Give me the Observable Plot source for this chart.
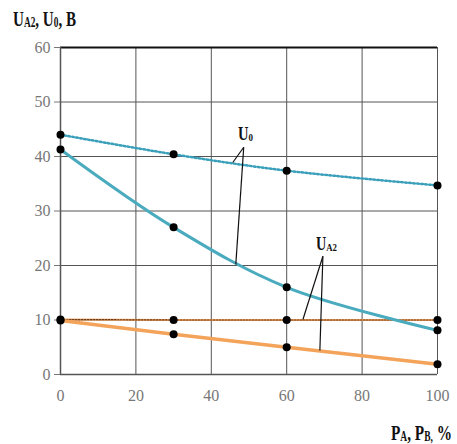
<!DOCTYPE html>
<html>
<head>
<meta charset="utf-8">
<script src="https://cdn.jsdelivr.net/npm/d3@7"></script>
<script src="https://cdn.jsdelivr.net/npm/@observablehq/plot@0.6"></script>
<style>
  html, body { margin: 0; padding: 0; background: #fff; }
  #wrap { position: relative; width: 457px; height: 444px; overflow: hidden; }
  #wrap svg text { font-family: "Liberation Serif", "Times New Roman", serif; }
  .ttl { position: absolute; font-family: "Liberation Serif", "Times New Roman", serif; font-weight: bold; color: #111; white-space: nowrap; line-height: 1; transform-origin: 0 0; }
  .ttl sub { font-size: 0.62em; line-height: 1; vertical-align: -1px; }
</style>
</head>
<body>
<div id="wrap"></div>
<script>
// Load share P_A, P_B in percent
const load = [0, 30, 60, 100];
// U0 (teal): dotted series and solid series, volts
const u0Dotted = [44.0, 40.4, 37.4, 34.7];
const u0Solid = [41.3, 27.0, 16.0, 8.1];
// UA2 (orange): dotted series and solid series, volts
const ua2Dotted = [10.1, 10.0, 10.0, 10.0];
const ua2Solid = [9.9, 7.4, 5.0, 1.9];

const xTicks = [0, 20, 40, 60, 80, 100];
const yTicks = [0, 10, 20, 30, 40, 50, 60];

const toRows = (ys) => load.map((x, i) => ({x, y: ys[i]}));
const rowsU0d = toRows(u0Dotted);
const rowsU0s = toRows(u0Solid);
const rowsUAd = toRows(ua2Dotted);
const rowsUAs = toRows(ua2Solid);

const teal = "#4aabbf";
const tealDot = "#3a9fba";
const orange = "#f3a35a";
const serif = "Liberation Serif";

// Leader lines from each label to its two curves
const leaders = [
  {x1: 48.6, y1: 41.7, x2: 45.7, y2: 38.9},
  {x1: 48.6, y1: 41.7, x2: 46.5, y2: 20.2},
  {x1: 69.6, y1: 21.7, x2: 64.3, y2: 10.1},
  {x1: 69.6, y1: 21.7, x2: 68.8, y2: 4.4}
];

const chart = Plot.plot({
  width: 457,
  height: 444,
  marginLeft: 60,
  marginRight: 20,
  marginTop: 47,
  marginBottom: 70,
  style: {fontFamily: serif, fontSize: "16px", background: "#fff"},
  x: {domain: [0, 100], ticks: xTicks, label: null},
  y: {domain: [0, 60], ticks: yTicks, label: null},
  marks: [
    Plot.gridX(xTicks, {stroke: "#555", strokeOpacity: 1, strokeWidth: 1}),
    Plot.gridY(yTicks, {stroke: "#555", strokeOpacity: 1, strokeWidth: 1}),
    Plot.ruleY([60], {stroke: "#111", strokeWidth: 2}),
    Plot.ruleX([0], {stroke: "#555", strokeWidth: 1.5}),
    Plot.ruleY([0], {stroke: "#555", strokeWidth: 1.5}),
    Plot.axisX({ticks: xTicks, tickSize: 0, tickPadding: 15, fill: "#777", fontSize: 16, fontFamily: serif, label: null}),
    Plot.axisY({ticks: yTicks, tickSize: 6, tickPadding: 4, fill: "#777", stroke: "#777", fontSize: 16, fontFamily: serif, label: null}),
    // UA2 lines
    Plot.line(rowsUAd, {x: "x", y: "y", stroke: orange, strokeWidth: 2}),
    Plot.line(rowsUAd, {x: "x", y: "y", stroke: "#6b3a1a", strokeWidth: 1.2, strokeDasharray: "1.5,1.5"}),
    Plot.line(rowsUAs, {x: "x", y: "y", stroke: orange, strokeWidth: 3.5}),
    // U0 lines
    Plot.line(rowsU0d, {x: "x", y: "y", stroke: tealDot, strokeWidth: 2.5, strokeDasharray: "1.8,2.2", curve: "catmull-rom"}),
    Plot.line(rowsU0s, {x: "x", y: "y", stroke: teal, strokeWidth: 3, curve: "catmull-rom"}),
    // Leaders
    Plot.link(leaders, {x1: "x1", y1: "y1", x2: "x2", y2: "y2", stroke: "#111", strokeWidth: 1.2}),
    // Measured points
    Plot.dot([...rowsU0d, ...rowsU0s, ...rowsUAd, ...rowsUAs], {x: "x", y: "y", r: 4, fill: "#000", stroke: "none"})
  ]
});

const wrap = document.getElementById("wrap");
wrap.appendChild(chart);

// Axis titles and curve labels with subscripts, set in a condensed bold serif
function label(html, left, top, size, width) {
  const d = document.createElement("div");
  d.className = "ttl";
  d.innerHTML = html;
  d.style.left = left + "px";
  d.style.top = top + "px";
  d.style.fontSize = size + "px";
  wrap.appendChild(d);
  const w = d.getBoundingClientRect().width;
  d.style.transform = `scaleX(${(width / w).toFixed(3)})`;
}
label("U<sub>A2</sub>, U<sub>0</sub>, B", 13, 8, 22, 63);
label("P<sub>A</sub>, P<sub>B,</sub> %", 391, 422, 22, 61);
label("U<sub>0</sub>", 238, 125, 18, 15);
label("U<sub>A2</sub>", 316, 235, 18, 21);
</script>
</body>
</html>
